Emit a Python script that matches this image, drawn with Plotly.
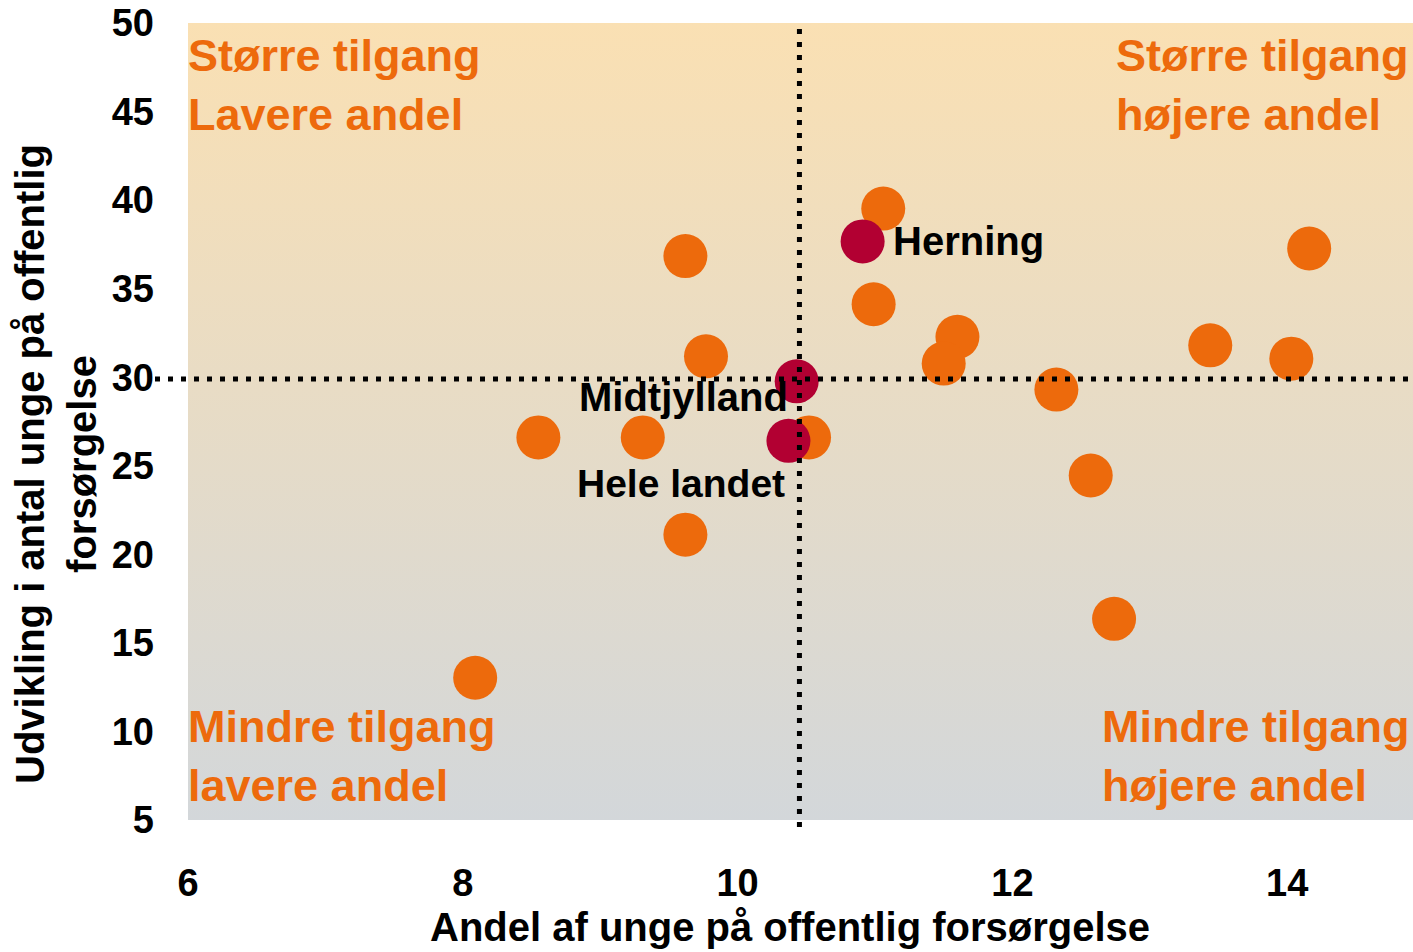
import base64
import plotly.graph_objects as go

# ---------------- data ----------------
other_x = [11.06, 9.62, 14.16, 10.99, 9.77, 11.60, 11.50, 13.44, 14.03, 12.32,
           8.55, 9.31, 10.52, 12.57, 9.62, 12.74, 8.09]
other_y = [39.52, 36.84, 37.27, 34.12, 31.18, 32.28, 30.77, 31.80, 31.05, 29.30,
           26.60, 26.60, 26.60, 24.45, 21.11, 16.36, 13.03]

hl_names = ["Herning", "Midtjylland", "Hele landet"]
hl_x = [10.91, 10.43, 10.37]
hl_y = [37.67, 29.77, 26.41]

ref_x = 10.45
ref_y = 29.9

x_ticks = [6, 8, 10, 12, 14]
y_ticks = [5, 10, 15, 20, 25, 30, 35, 40, 45, 50]

quadrant_texts = ["Større tilgang<br>Lavere andel", "Større tilgang<br>højere andel",
                  "Mindre tilgang<br>lavere andel", "Mindre tilgang<br>højere andel"]
x_title = "Andel af unge på offentlig forsørgelse"
y_title = "Udvikling i antal unge på offentlig<br>forsørgelse"

# ---------------- style ----------------
ORANGE = "#ED6A0C"
RED = "#B20032"
FONT = "Liberation Sans, Arial, sans-serif"

W, H = 1413, 952
ML, MR, MT, MB = 188, 0, 23, 132
PW = W - ML - MR
PH = H - MT - MB

def px_to_paper_x(px):
    return (px - ML) / PW

def px_to_paper_y(py):
    return (H - MB - py) / PH

# gradient background as svg image
svg = ('<svg xmlns="http://www.w3.org/2000/svg" width="100" height="100" preserveAspectRatio="none">'
       '<defs><linearGradient id="g" x1="0" y1="0" x2="0" y2="1">'
       '<stop offset="0" stop-color="#FAE0B3"/>'
       '<stop offset="1" stop-color="#D3D7DA"/>'
       '</linearGradient></defs>'
       '<rect width="100" height="100" fill="url(#g)"/></svg>')
svg_uri = "data:image/svg+xml;base64," + base64.b64encode(svg.encode()).decode()

fig = go.Figure()

fig.add_trace(go.Scatter(
    x=other_x, y=other_y, mode="markers",
    marker=dict(size=44, color=ORANGE, line=dict(width=0)),
    showlegend=False, hoverinfo="skip"))

fig.add_trace(go.Scatter(
    x=hl_x, y=hl_y, mode="markers",
    marker=dict(size=44, color=RED, line=dict(width=0)),
    showlegend=False, hoverinfo="skip"))

# reference dotted lines (above markers)
dot = dict(color="black", width=5, dash="5px,8px")
fig.add_shape(type="line", xref="x", yref="paper", x0=ref_x, x1=ref_x,
              y0=px_to_paper_y(827), y1=px_to_paper_y(28), line=dot, layer="above")
fig.add_shape(type="line", xref="paper", yref="y", x0=px_to_paper_x(155), x1=1,
              y0=ref_y, y1=ref_y, line=dot, layer="above")

annotations = []
# point labels
label_shifts = [(28, 0, "left"), (-7, -16, "right"), (-1, -43, "right")]
label_sizes = [40, 40, 39]
for name, lx, ly, (dx, dy, anc), fs in zip(hl_names, hl_x, hl_y, label_shifts, label_sizes):
    annotations.append(dict(x=lx, y=ly, xref="x", yref="y", text=name, showarrow=False,
                            xanchor=anc, yanchor="middle", xshift=dx, yshift=dy,
                            font=dict(family=FONT, size=fs, color="black", weight="bold")))

# quadrant texts
quad_pos = [(186, 85, "left"), (1114, 85, "left"), (186, 756, "left"), (1100, 756, "left")]
for t, (qx, qy, anc) in zip(quadrant_texts, quad_pos):
    annotations.append(dict(x=px_to_paper_x(qx), y=px_to_paper_y(qy), xref="paper", yref="paper",
                            text=t, showarrow=False, xanchor=anc, yanchor="middle", align="left",
                            font=dict(family=FONT, size=45, color=ORANGE, weight="bold")))

# axis titles
annotations.append(dict(x=px_to_paper_x(790), y=px_to_paper_y(927), xref="paper", yref="paper",
                        text=x_title, showarrow=False, xanchor="center", yanchor="middle",
                        font=dict(family=FONT, size=40, color="black", weight="bold")))
annotations.append(dict(x=px_to_paper_x(56), y=px_to_paper_y(464), xref="paper", yref="paper",
                        text=y_title, showarrow=False, xanchor="center", yanchor="middle",
                        textangle=-90, align="center",
                        font=dict(family=FONT, size=40, color="black", weight="bold")))

fig.update_layout(
    width=W, height=H,
    margin=dict(l=ML, r=MR, t=MT, b=MB, pad=0),
    paper_bgcolor="white",
    plot_bgcolor="rgba(0,0,0,0)",
    annotations=annotations,
    images=[dict(source=svg_uri, xref="paper", yref="paper", x=0, y=1, sizex=1, sizey=1,
                 xanchor="left", yanchor="top", sizing="stretch", layer="below")],
    xaxis=dict(range=[6, 6 + PW / 137.4], tickvals=x_ticks, showgrid=False, zeroline=False,
               showline=False, ticks="", ticklabelstandoff=37, ticklabeloverflow="allow",
               tickfont=dict(family=FONT, size=38, color="black", weight="bold")),
    yaxis=dict(range=[5, 50], tickvals=y_ticks, showgrid=False, zeroline=False,
               showline=False, ticks="", ticklabelstandoff=33, ticklabeloverflow="allow",
               tickfont=dict(family=FONT, size=38, color="black", weight="bold")),
)

fig.write_html("out.html", config={"displayModeBar": False},
               post_script="document.body.style.margin='0';document.body.style.overflow='hidden';")
